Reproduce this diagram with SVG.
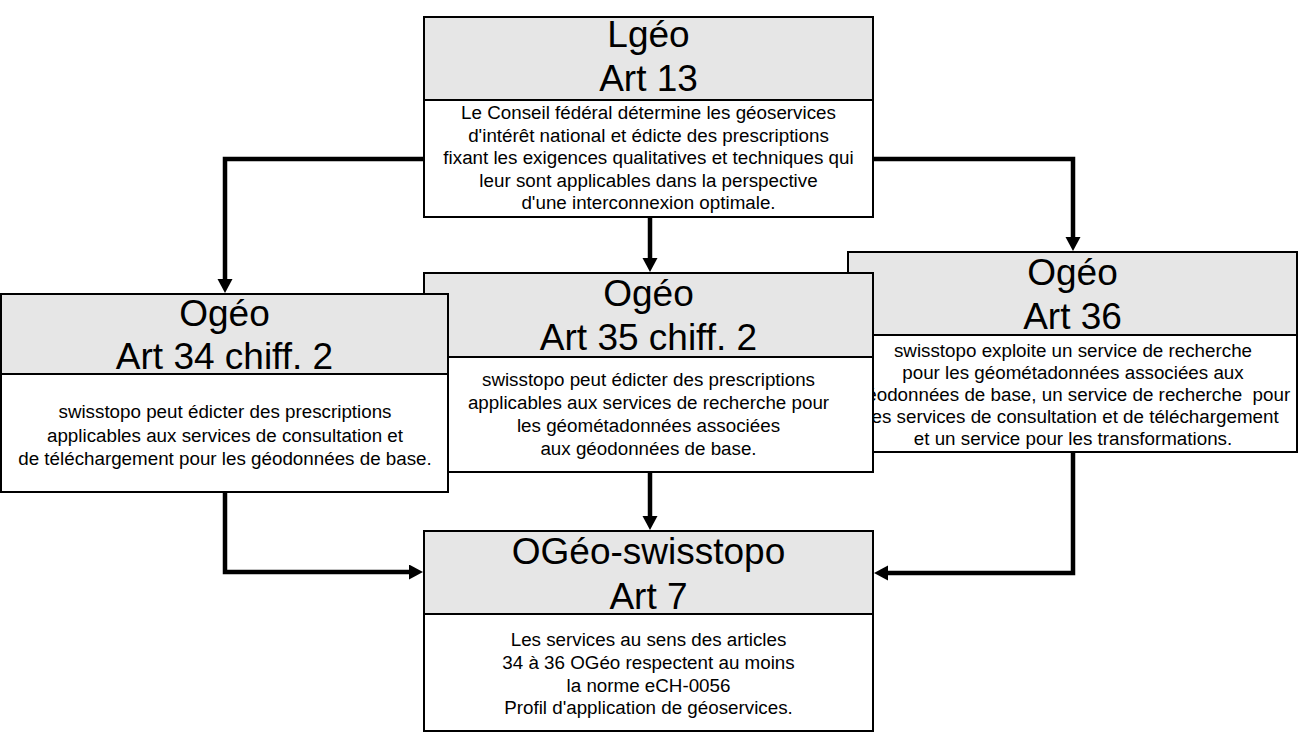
<svg xmlns="http://www.w3.org/2000/svg" width="1304" height="733" viewBox="0 0 1304 733">
<defs>
<style>
.hd{fill:#e6e6e6;stroke:none}
.bd{fill:#ffffff;stroke:none}
.fr{fill:none;stroke:#000;stroke-width:2}
.dv{stroke:#000;stroke-width:2}
.t{font-family:"Liberation Sans",Arial,sans-serif;font-size:37px;fill:#000;text-anchor:middle}
.b{font-family:"Liberation Sans",Arial,sans-serif;font-size:18.8px;fill:#000;text-anchor:middle}
.c{fill:none;stroke:#000;stroke-width:4.5;stroke-linejoin:miter}
</style>
<marker id="ah" markerUnits="userSpaceOnUse" markerWidth="16" markerHeight="16" refX="6" refY="7.5" orient="auto">
<path d="M0,0 L14,7.5 L0,15 z" fill="#000"/>
</marker>
</defs>
<rect width="1304" height="733" fill="#fff"/>

<g id="node-lgeo-13">
<rect class="bd" x="424" y="17" width="449" height="200"/>
<rect class="hd" x="424" y="17" width="449" height="83"/>
<line class="dv" x1="424" y1="100" x2="873" y2="100"/>
<rect class="fr" x="424" y="17" width="449" height="200"/>
<text class="t" x="648.5" y="47">Lgéo</text>
<text class="t" x="648.5" y="91">Art 13</text>
<text class="b" x="648.5" y="119">Le Conseil fédéral détermine les géoservices</text>
<text class="b" x="648.5" y="141.5">d'intérêt national et édicte des prescriptions</text>
<text class="b" x="648.5" y="164">fixant les exigences qualitatives et techniques qui</text>
<text class="b" x="648.5" y="186.5">leur sont applicables dans la perspective</text>
<text class="b" x="648.5" y="209">d'une interconnexion optimale.</text>
</g>

<g id="node-ogeo-36">
<rect class="bd" x="848" y="252" width="449" height="200"/>
<rect class="hd" x="848" y="252" width="449" height="83"/>
<line class="dv" x1="848" y1="335" x2="1297" y2="335"/>
<rect class="fr" x="848" y="252" width="449" height="200"/>
<text class="t" x="1072.5" y="285">Ogéo</text>
<text class="t" x="1072.5" y="329">Art 36</text>
<text class="b" x="1073" y="357">swisstopo exploite un service de recherche</text>
<text class="b" x="1073" y="379">pour les géométadonnées associées aux</text>
<text class="b" x="1073" y="401" style="white-space:pre">géodonnées de base, un service de recherche  pour</text>
<text class="b" x="1073" y="423">les services de consultation et de téléchargement</text>
<text class="b" x="1073" y="445">et un service pour les transformations.</text>
</g>

<g id="node-ogeo-35">
<rect class="bd" x="424" y="273" width="449" height="199"/>
<rect class="hd" x="424" y="273" width="449" height="84"/>
<line class="dv" x1="424" y1="357" x2="873" y2="357"/>
<rect class="fr" x="424" y="273" width="449" height="199"/>
<text class="t" x="648.5" y="306">Ogéo</text>
<text class="t" x="648.5" y="350">Art 35 chiff. 2</text>
<text class="b" x="648.5" y="386">swisstopo peut édicter des prescriptions</text>
<text class="b" x="648.5" y="409">applicables aux services de recherche pour</text>
<text class="b" x="648.5" y="432">les géométadonnées associées</text>
<text class="b" x="648.5" y="455">aux géodonnées de base.</text>
</g>

<g id="node-ogeo-34">
<rect class="bd" x="1" y="294" width="447" height="198"/>
<rect class="hd" x="1" y="294" width="447" height="80"/>
<line class="dv" x1="1" y1="374" x2="448" y2="374"/>
<rect class="fr" x="1" y="294" width="447" height="198"/>
<text class="t" x="224.5" y="326">Ogéo</text>
<text class="t" x="224.5" y="369">Art 34 chiff. 2</text>
<text class="b" x="225" y="418">swisstopo peut édicter des prescriptions</text>
<text class="b" x="225" y="441.5">applicables aux services de consultation et</text>
<text class="b" x="225" y="465">de téléchargement pour les géodonnées de base.</text>
</g>

<g id="node-ogeo-swisstopo-7">
<rect class="bd" x="424" y="531" width="449" height="200"/>
<rect class="hd" x="424" y="531" width="449" height="83"/>
<line class="dv" x1="424" y1="614" x2="873" y2="614"/>
<rect class="fr" x="424" y="531" width="449" height="200"/>
<text class="t" x="648.5" y="564">OGéo-swisstopo</text>
<text class="t" x="648.5" y="609">Art 7</text>
<text class="b" x="648.5" y="646">Les services au sens des articles</text>
<text class="b" x="648.5" y="669">34 à 36 OGéo respectent au moins</text>
<text class="b" x="648.5" y="692">la norme eCH-0056</text>
<text class="b" x="648.5" y="714">Profil d'application de géoservices.</text>
</g>

<g id="connectors">
<path class="c" d="M424,159 H225 V285" marker-end="url(#ah)"/>
<path class="c" d="M650,218 V264" marker-end="url(#ah)"/>
<path class="c" d="M873,159 H1073 V243" marker-end="url(#ah)"/>
<path class="c" d="M225,493 V572 H415" marker-end="url(#ah)"/>
<path class="c" d="M650,473 V522" marker-end="url(#ah)"/>
<path class="c" d="M1073,453 V573 H882" marker-end="url(#ah)"/>
</g>
</svg>
